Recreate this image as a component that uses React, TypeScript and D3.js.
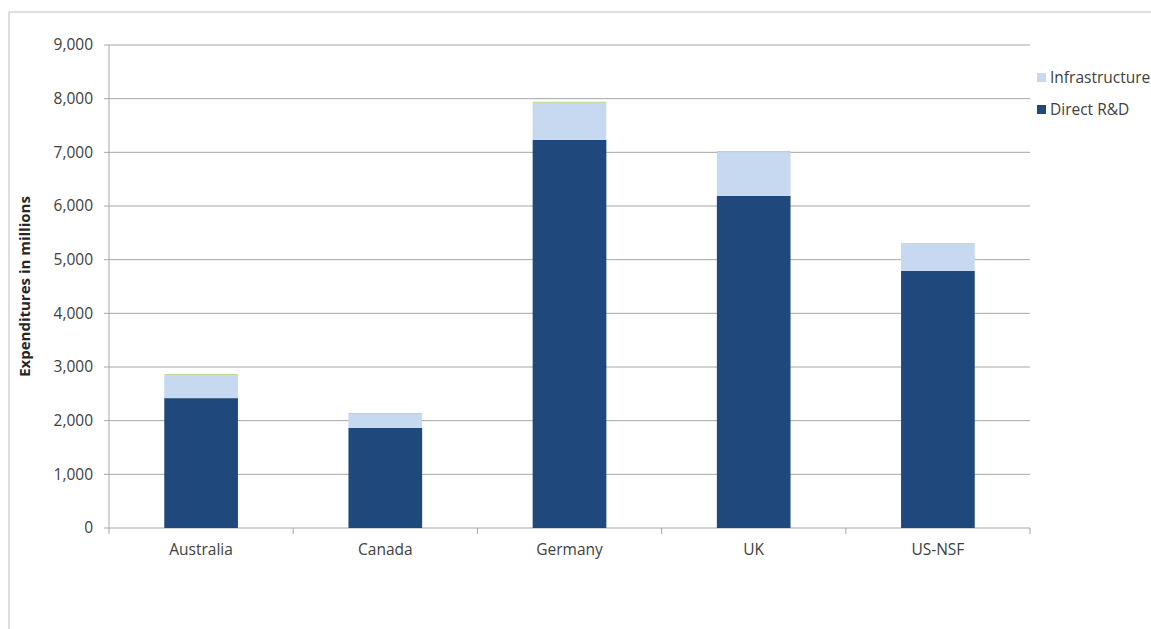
import React from "react";
import * as d3 from "d3";

const categories = ["Australia", "Canada", "Germany", "UK", "US-NSF"];
const directRD = [2420, 1865, 7230, 6190, 4790];
const infrastructure = [430, 260, 690, 815, 500];
const other = [20, 18, 22, 20, 18];
const yTicks = [0, 1000, 2000, 3000, 4000, 5000, 6000, 7000, 8000, 9000];
const seriesNames = ["Direct R&D", "Infrastructure", "Other"];
const seriesColors = ["#1f497d", "#c6d9f1", "#c4d79b"];

const W = 1151, H = 629;
const margin = { left: 109, right: 121, top: 45, bottom: 101 };

export default function App() {
  const step = (W - margin.right - margin.left) / categories.length;
  const bx = d3.scaleBand<string>().domain(categories).range([margin.left, W - margin.right]).padding(0);
  const bw = step * 0.4;
  const y = d3.scaleLinear().domain([0, 9000]).range([H - margin.bottom, margin.top]);
  const rows = categories.map((c, i) => ({ cat: c, "Direct R&D": directRD[i], Infrastructure: infrastructure[i], Other: other[i] }));
  const stack = d3.stack<any>().keys(seriesNames)(rows);
  const font = "Open Sans, Liberation Sans, sans-serif";
  const x0 = margin.left, x1 = W - margin.right;
  const boundaries = categories.map((c) => bx(c)! + bx.bandwidth());
  const fs = 15.5;
  return (
    <svg width={W} height={H} style={{ position: "absolute", left: 0, top: 0, background: "#fff" }} fontFamily={font}>
      <rect x={9} y={12} width={W} height={H} fill="#fff" stroke="#bfbfbf" strokeWidth={1} />
      {yTicks.map((t) => (
        <g key={t}>
          <line x1={x0 - 5} x2={x1} y1={y(t)} y2={y(t)} stroke="#a6a6a6" strokeWidth={1} />
          <text x={x0 - 16} y={y(t)} dy="0.35em" textAnchor="end" fontSize={fs} fill="#404040">{d3.format(",")(t)}</text>
        </g>
      ))}
      <line x1={x0} x2={x0} y1={y(0)} y2={y(9000)} stroke="#a6a6a6" />
      {[bx(categories[0])!, ...boundaries].map((b, i) => (
        <line key={i} x1={b} x2={b} y1={y(0)} y2={y(0) + 6} stroke="#a6a6a6" />
      ))}
      {stack.map((s, si) => (
        <g key={seriesNames[si]} fill={seriesColors[si]}>
          {s.map((d, i) => (
            <rect key={i} x={bx(categories[i])! + (step - bw) / 2} width={bw} y={y(d[1])} height={y(d[0]) - y(d[1])} />
          ))}
        </g>
      ))}
      {categories.map((c) => (
        <text key={c} x={bx(c)! + step / 2} y={y(0) + 27} textAnchor="middle" fontSize={fs} fill="#404040">{c}</text>
      ))}
      <text transform={`translate(30,${(y(0) + y(9000)) / 2}) rotate(-90)`} textAnchor="middle" fontSize={15} fontWeight="bold" fill="#262626">Expenditures in millions</text>
      {[["Infrastructure", seriesColors[1], 78], ["Direct R&D", seriesColors[0], 110]].map(([name, col, yy]) => (
        <g key={name as string}>
          <rect x={1037} y={(yy as number) - 5} width={9} height={9} fill={col as string} />
          <text x={1050} y={yy as number} dy="0.35em" fontSize={fs} fill="#404040">{name}</text>
        </g>
      ))}
    </svg>
  );
}
